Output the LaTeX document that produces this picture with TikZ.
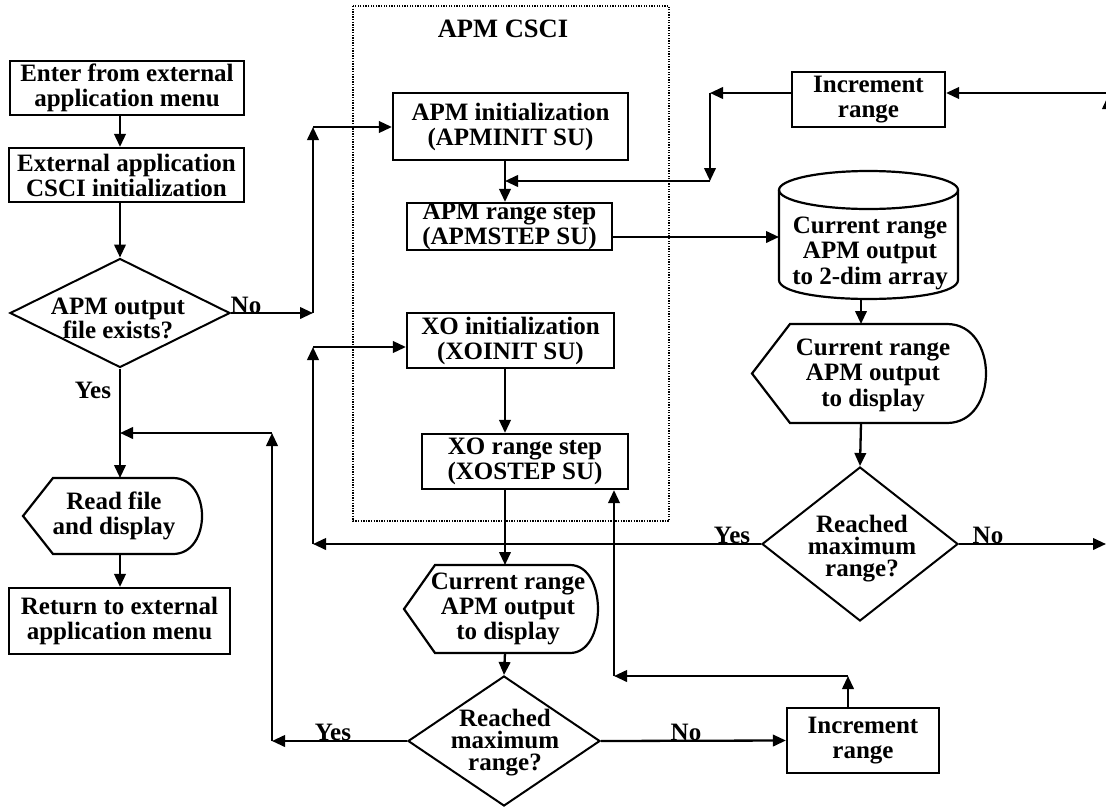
\documentclass[tikz,border=0pt]{standalone}
\usepackage{fontspec}
\setmainfont{Liberation Serif}
\usetikzlibrary{arrows.meta,shapes.geometric}
\begin{document}
\begin{tikzpicture}[x=1pt,y=-1pt,
  txt/.style={font=\bfseries\fontsize{25}{25}\selectfont, align=center, inner sep=0pt},
  dtxt/.style={font=\bfseries\fontsize{25}{22}\selectfont, align=center, inner sep=0pt},
  box/.style={txt, draw, line width=2.2pt, rectangle},
  lbl/.style={font=\bfseries\fontsize{25}{25}\selectfont, inner sep=0pt, anchor=base},
  dia/.style={draw, diamond, line width=2pt, inner sep=0pt},
  arr/.style={line width=2.3pt, -{Triangle[length=13pt,width=11.5pt]}},
  shp/.style={line width=2.2pt, line join=miter}]
\useasboundingbox (0,0) rectangle (1106,809);
\clip (0,0) rectangle (1106,809);
\coordinate (lx) at (120,0);
\coordinate (ax) at (505,0);
% ---- left column
\node[box, minimum width=234pt, minimum height=54pt] (enter) at (127,88) {Enter from external\\application menu};
\node[box, minimum width=235pt, minimum height=54pt] (extinit) at (126.5,175) {External application\\CSCI initialization};
\node[dia, minimum width=220pt, minimum height=109pt] (d1) at (120,313) {};
\node[txt, font=\bfseries\fontsize{25}{19.5}\selectfont] (d1t) at (118,318) {APM output\\file exists?};
\node[lbl] (no1) at (246,313) {No};
\node[lbl] (yes1) at (93,398) {Yes};
\draw[shp] (23,516) -- (53,478) -- (173,478) .. controls (211.7,478) and (211.7,554) .. (173,554) -- (53,554) -- cycle;
\node[txt] (rd) at (114,516) {Read file\\and display};
\coordinate (rdN) at (120,478);
\coordinate (rdS) at (120,554);
\node[box, minimum width=221pt, minimum height=66pt] (ret) at (119.5,621) {Return to external\\application menu};
% ---- APM CSCI group
\draw[line width=1.3pt, dash pattern=on 1.3pt off 1.3pt] (353,6) rectangle (669,521);
\node[lbl, font=\bfseries\fontsize{26.5}{27}\selectfont] (title) at (503,37) {APM CSCI};
\node[box, minimum width=235pt, minimum height=67pt] (apminit) at (510.5,126.5) {APM initialization\\(APMINIT SU)};
\node[box, minimum width=205pt, minimum height=47pt] (apmstep) at (509.5,226.5) {APM range step\\(APMSTEP SU)};
\node[box, minimum width=207pt, minimum height=55pt] (xoinit) at (510.5,340.5) {XO initialization\\(XOINIT SU)};
\node[box, minimum width=206pt, minimum height=55pt] (xostep) at (525,461.5) {XO range step\\(XOSTEP SU)};
% ---- bottom middle
\draw[shp] (404,609) -- (435,565) -- (570,565) .. controls (607.3,565) and (607.3,653) .. (570,653) -- (435,653) -- cycle;
\node[txt] (disp3) at (508,609) {Current range\\APM output\\to display};
\coordinate (disp3N) at (505,565);
\coordinate (disp3S) at (505,653);
\node[dia, minimum width=192pt, minimum height=130pt] (d3) at (504,741) {};
\node[dtxt] (d3t) at (505,742.5) {Reached\\maximum\\range?};
\node[lbl] (yes3) at (333,740) {Yes};
\node[lbl] (no3) at (686,740) {No};
\node[box, minimum width=152pt, minimum height=65pt] (inc2) at (863,740.5) {Increment\\range};
% ---- right column
\node[box, minimum width=153pt, minimum height=55pt] (inc1) at (868.5,99.5) {Increment\\range};
\draw[shp] (868.5,190) ellipse [x radius=89.5pt, y radius=19pt];
\draw[shp] (779,190) -- (779,280) .. controls (779,305.3) and (958,305.3) .. (958,280) -- (958,190);
\node[txt, font=\bfseries\fontsize{25}{25.5}\selectfont] (cyl) at (870,253) {Current range\\APM output\\to 2-dim array};
\coordinate (cylW) at (779,237);
\coordinate (cylS) at (861,299);
\draw[shp] (752,373.5) -- (790,324) -- (947,324) .. controls (999,324) and (999,423) .. (947,423) -- (790,423) -- cycle;
\node[txt, font=\bfseries\fontsize{25}{25.5}\selectfont] (disp2) at (873,375) {Current range\\APM output\\to display};
\coordinate (disp2N) at (861,324);
\coordinate (disp2S) at (861,423);
\node[dia, minimum width=196pt, minimum height=154pt] (d2) at (860,544) {};
\node[dtxt] (d2t) at (862,548.5) {Reached\\maximum\\range?};
\node[lbl] (yes2) at (732,543) {Yes};
\node[lbl] (no2) at (988,543) {No};
% ---- connector points
\coordinate (c1) at (313,313);
\coordinate (c2) at (313,127);
\coordinate (j1) at (120,433);
\coordinate (c3) at (272,433);
\coordinate (c4) at (272,741);
\coordinate (j2) at (505,181);
\coordinate (c5) at (710,181);
\coordinate (c6) at (710,93);
\coordinate (c7) at (1112,93);
\coordinate (c8) at (1108,96);
\coordinate (c8b) at (1108,544);
\coordinate (c9) at (313,544);
\coordinate (c10) at (313,347);
\coordinate (redge) at (1106,544);
\coordinate (c11) at (848,676);
\coordinate (c12) at (614,676);
% ---- connectors
\draw[arr] (enter.south -| lx) -- (extinit.north -| lx);
\draw[arr] (extinit.south -| lx) -- (d1.north);
\draw[arr] (d1.east) -- (c1);
\draw[arr] (c1) -- (c2);
\draw[arr] (c2) -- (apminit.west |- c2);
\draw[arr] (d1.south) -- (rdN);
\draw[arr] (c3) -- (j1);
\draw[arr] (c4) -- (c3);
\draw[arr] (d3.west) -- (c4);
\draw[arr] (rdS) -- (ret.north -| lx);
\draw[arr] (apminit.south -| ax) -- (apmstep.north -| ax);
\draw[arr] (c5) -- (j2);
\draw[arr] (c6) -- (c5);
\draw[arr] (inc1.west |- c6) -- (c6);
\draw[arr] (c7) -- (inc1.east |- c7);
\draw[arr] (c8b) -- (c8);
\draw[arr] (apmstep.east |- cylW) -- (cylW);
\draw[arr] (cylS) -- (disp2N);
\draw[arr] (disp2S) -- (d2.north);
\draw[arr] (d2.west) -- (c9);
\draw[arr] (c9) -- (c10);
\draw[arr] (c10) -- (xoinit.west |- c10);
\draw[arr] (d2.east) -- (redge);
\draw[arr] (xoinit.south -| ax) -- (xostep.north -| ax);
\draw[arr] (xostep.south -| ax) -- (disp3N);
\draw[arr] (disp3S) -- (d3.north);
\draw[arr] (d3.east) -- (inc2.west);
\draw[arr] (inc2.north -| c11) -- (c11);
\draw[arr] (c11) -- (c12);
\draw[arr] (c12) -- (xostep.south -| c12);
\end{tikzpicture}
\end{document}
